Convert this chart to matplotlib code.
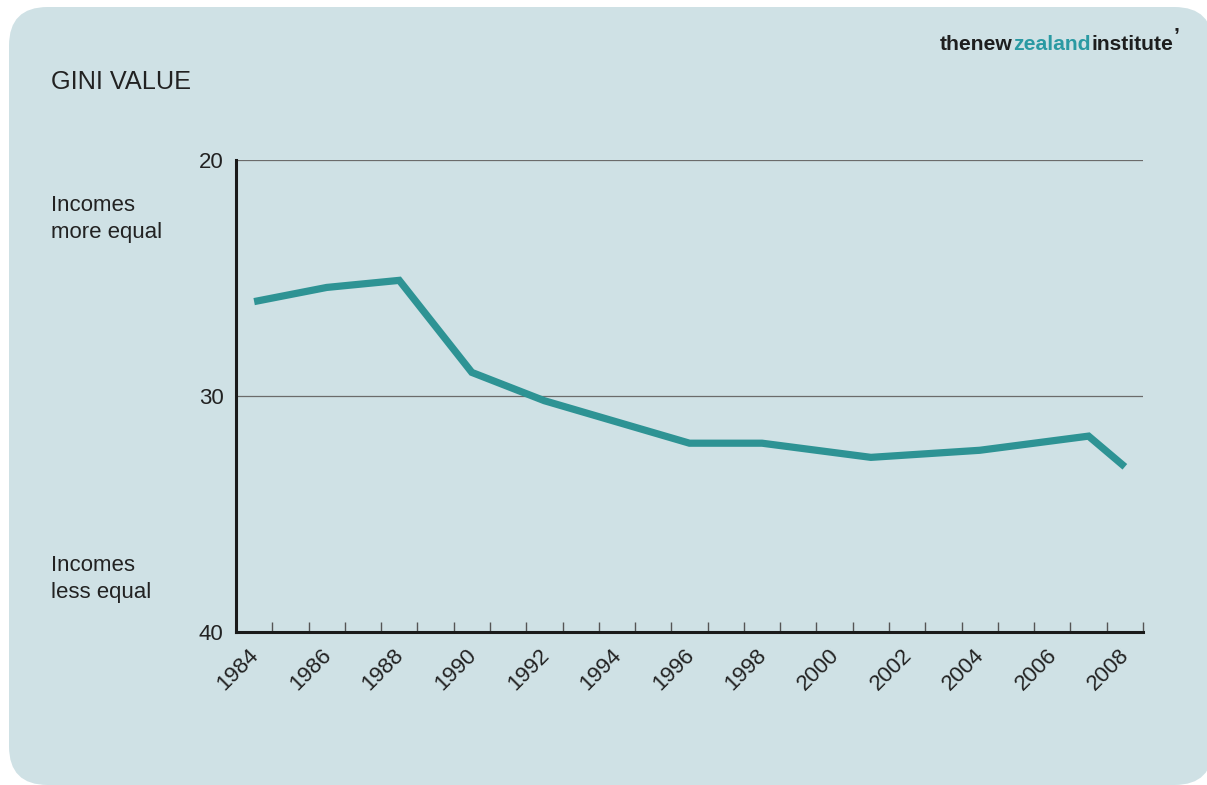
import matplotlib
matplotlib.use("Agg")
import matplotlib.pyplot as plt
from matplotlib.patches import FancyBboxPatch
from matplotlib.transforms import ScaledTranslation
import numpy as np

years = [1984, 1986, 1988, 1990, 1992, 1994, 1996, 1998, 2001, 2004, 2007, 2008]
gini = [26.0, 25.4, 25.1, 29.0, 30.2, 31.1, 32.0, 32.0, 32.6, 32.3, 31.7, 33.0]
label_years = list(range(1984, 2009, 2))
y_ticks = [20, 30, 40]

BG = "#cfe1e5"
TEAL = "#2e9394"
TXT = "#222222"

plt.rcParams["font.family"] = ["Liberation Sans", "DejaVu Sans"]

W, H = 1207, 785
fig = plt.figure(figsize=(W / 100, H / 100), dpi=100)
fig.patch.set_facecolor("white")

panel = FancyBboxPatch((9 / W, 0.0 / H), 1 - 9 / W + 0.005, (H - 7) / H,
                       boxstyle="round,pad=0,rounding_size=0.032",
                       transform=fig.transFigure, facecolor=BG, edgecolor="none",
                       mutation_aspect=W / H, zorder=-5)
fig.patches.append(panel)

ax = fig.add_axes([236 / W, 1 - 632 / H, (1143 - 236) / W, (632 - 160) / H])
ax.set_facecolor("none")
ax.set_zorder(2)
ax.set_xlim(1983.5, 2008.5)
ax.set_ylim(40, 20)

for v in [20, 30]:
    ax.axhline(v, color="#6b6b6b", lw=0.9, zorder=1)

ax.plot(years, gini, color=TEAL, lw=5.2, solid_joinstyle="miter", solid_capstyle="butt", zorder=3)

for s in ["top", "right"]:
    ax.spines[s].set_visible(False)
for s in ["left", "bottom"]:
    ax.spines[s].set_color("#1a1a1a")
    ax.spines[s].set_linewidth(2.2)

ax.set_yticks(y_ticks)
ax.set_yticklabels([str(v) for v in y_ticks], fontsize=16, color=TXT)
ax.tick_params(axis="y", length=0, pad=9)

ax.set_xticks(label_years)
ax.set_xticklabels([str(y) for y in label_years], rotation=45, ha="right",
                   rotation_mode="anchor", fontsize=16, color=TXT)
ax.tick_params(axis="x", which="major", length=0, pad=9)
offset = ScaledTranslation(-6 / 100, 0, fig.dpi_scale_trans)
for lab in ax.get_xticklabels():
    lab.set_transform(lab.get_transform() + offset)
ax.set_xticks(np.arange(1984.5, 2009, 1.0), minor=True)
ax.tick_params(axis="x", which="minor", direction="in", length=7, width=1.0, color="#555555")

fig.text(51 / W, 1 - 82 / H, "GINI VALUE", fontsize=18.2, color=TXT, va="center", ha="left")
fig.text(51 / W, 1 - 219 / H, "Incomes\nmore equal", fontsize=16, color=TXT, va="center",
         ha="left", linespacing=1.32)
fig.text(51 / W, 1 - 579 / H, "Incomes\nless equal", fontsize=16, color=TXT, va="center",
         ha="left", linespacing=1.32)

# logo
renderer = fig.canvas.get_renderer()
x = 940
parts = [("thenew", "#1e1e1e"), ("zealand", "#2a9aa3"), ("institute", "#1e1e1e")]
for txt, col in parts:
    t = fig.text(x / W, 1 - 44 / H, txt, fontsize=15.2, fontweight="bold", color=col,
                 va="center", ha="left", family="Liberation Sans")
    bb = t.get_window_extent(renderer=renderer)
    x += bb.width + 0.5
fig.text(x / W, 1 - 36 / H, "\u2019", fontsize=15, fontweight="bold", color="#1e1e1e",
         va="center", ha="left")

fig.savefig("out.png", dpi=100, facecolor="white")
